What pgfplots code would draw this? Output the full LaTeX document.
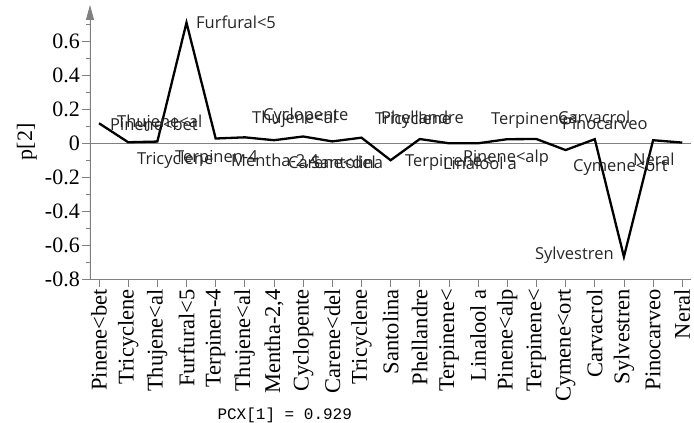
\documentclass[border=0pt]{standalone}
\usepackage{fontspec}
\setmainfont{Liberation Serif}
\newfontfamily\labfont{Open Sans}
\newfontfamily\pcxfont{Liberation Mono}
\usepackage{pgfplots}
\pgfplotsset{compat=1.18}
\usetikzlibrary{arrows.meta}
\pgfplotstableread{
x y
1 0.118
2 0.006
3 0.010
4 0.711
5 0.028
6 0.035
7 0.018
8 0.040
9 0.011
10 0.033
11 -0.100
12 0.025
13 0.000
14 0.000
15 0.024
16 0.025
17 -0.040
18 0.024
19 -0.669
20 0.018
21 0.004
}\loadings
\begin{document}
\begin{tikzpicture}
\begin{axis}[name=ax, scale only axis, width=601pt, height=274pt,
 xmin=0.691, xmax=21.3, ymin=-0.8, ymax=0.815,
 axis x line=bottom, axis y line=left,
 x axis line style={-, draw=gray, line width=0.8pt},
 y axis line style={-{Triangle[width=8pt,length=15pt]}, draw=gray, fill=gray, line width=0.8pt},
 xtick={1,...,21},
 xticklabels={Pinene<bet,Tricyclene,Thujene<al,Furfural<5,Terpinen-4,Thujene<al,{Mentha-2,4},Cyclopente,Carene<del,Tricyclene,Santolina,Phellandre,Terpinene<,Linalool a,Pinene<alp,Terpinene<,Cymene<ort,Carvacrol,Sylvestren,Pinocarveo,Neral},
 x tick label style={rotate=90, anchor=east, font=\fontsize{22.5}{24}\selectfont, inner sep=2pt},
 ytick={-0.8,-0.6,-0.4,-0.2,0,0.2,0.4,0.6},
 yticklabels={-0.8,-0.6,-0.4,-0.2,0,0.2,0.4,0.6},
 minor ytick={-0.7,-0.5,-0.3,-0.1,0.1,0.3,0.5,0.7},
 y tick label style={font=\fontsize{22}{24}\selectfont, inner sep=2pt},
 tick align=outside, tick style={gray, line width=0.8pt},
 major tick length=8pt, minor tick length=4pt,
 ylabel={p[2]}, ylabel style={font=\fontsize{22}{24}\selectfont, at={(axis description cs:-0.105,0.5)}, anchor=center},
 clip=false,
]
\draw[gray, line width=0.6pt] (axis cs:0.691,0) -- (axis cs:21.3,0);
\addplot[black, line width=2.3pt, mark=none] table[x=x,y=y] {\loadings};
\begin{scope}[every node/.style={anchor=west, inner sep=0pt, font=\labfont\fontsize{16.5}{18}\selectfont, text=black!85}]
\node at (axis cs:1.377,0.111) {Pinene<bet};
\node at (axis cs:1.617,0.120) {Thujene<al};
\node at (axis cs:2.303,-0.098) {Tricyclene};
\node at (axis cs:4.325,0.711) {Furfural<5};
\node at (axis cs:3.605,-0.087) {Terpinen-4};
\node at (axis cs:5.525,-0.107) {Mentha-2,4};
\node at (axis cs:7.479,-0.110) {Carene<del};
\node at (axis cs:8.268,-0.110) {Santolina};
\node at (axis cs:6.245,0.140) {Thujene<al};
\node at (axis cs:6.622,0.157) {Cyclopente};
\node at (axis cs:10.462,0.137) {Tricyclene};
\node at (axis cs:10.668,0.152) {Phellandre};
\node at (axis cs:11.49,-0.110) {Terpinene<};
\node at (axis cs:12.793,-0.116) {Linalool a};
\node at (axis cs:13.479,-0.087) {Pinene<alp};
\node at (axis cs:14.439,0.133) {Terpinene<};
\node at (axis cs:16.736,0.153) {Carvacrol};
\node at (axis cs:16.873,0.114) {Pinocarveo};
\node at (axis cs:17.250,-0.142) {Cymene<ort};
\node at (axis cs:19.307,-0.094) {Neral};
\node at (axis cs:15.947,-0.659) {Sylvestren};
\end{scope}
\node[font=\pcxfont\fontsize{16}{18}\selectfont, anchor=center, inner sep=0pt] at (rel axis cs:0.324,-0.496) {PCX[1] = 0.929};
\end{axis}
\pgfresetboundingbox
\path[use as bounding box] ([xshift=-90pt,yshift=-144pt]ax.south west) rectangle ([xshift=3pt,yshift=5pt]ax.north east);
\end{tikzpicture}
\end{document}
